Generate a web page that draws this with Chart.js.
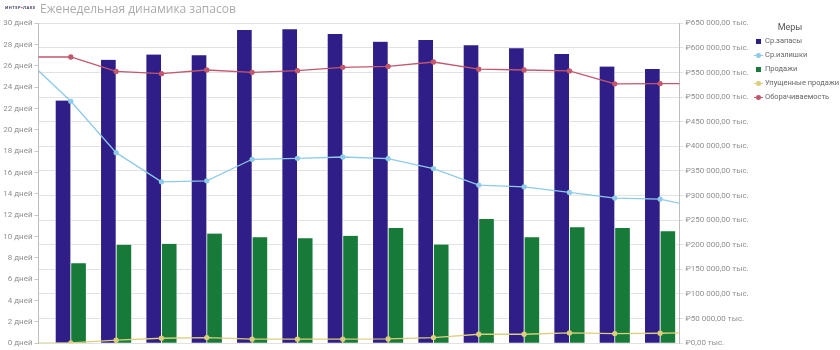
<!DOCTYPE html>
<html lang="ru">
<head>
<meta charset="utf-8">
<script src="https://cdn.jsdelivr.net/npm/chart.js@4.4.1/dist/chart.umd.min.js"></script>
<style>
  html, body { margin: 0; padding: 0; background: #fff; }
  #wrap { position: relative; width: 840px; height: 350px; font-family: "Open Sans", sans-serif; }
  #chart { position: absolute; left: 0; top: 0; }
  #logo { position: absolute; left: 5px; top: 5px; font-size: 4px; line-height: 5px; font-weight: bold; letter-spacing: 0.5px; color: #3a3f5c; }
  #logo b { color: #d0243a; }
  #title { position: absolute; left: 40px; top: 0px; font-size: 12px; line-height: 17px; color: #ababab; }
  #legend { position: absolute; left: 754px; top: 20px; font-family: Roboto, sans-serif; font-size: 7.5px; color: #666; }
  #legend .head { width: 72px; text-align: center; font-size: 9px; color: #555; height: 14px; line-height: 14px; }
  #legend .item { height: 14px; line-height: 14px; white-space: nowrap; position: relative; padding-left: 11px; }
  #legend .sq { position: absolute; left: 2px; top: 4.5px; width: 5px; height: 5px; }
  #legend .ln { position: absolute; left: 0; top: 6.5px; width: 9px; height: 1.2px; }
  #legend .dot { position: absolute; left: 2.3px; top: 5px; width: 4.5px; height: 4.5px; border-radius: 50%; }
</style>
</head>
<body>
<div id="wrap">
  <canvas id="chart" width="840" height="350"></canvas>
  <div id="logo">ИНТЕР<b>•</b>ЛАКЕ</div>
  <div id="title">Еженедельная динамика запасов</div>
  <div id="legend"></div>
</div>
<script>
// weeks; the first and last one are only partly in view (lines run off the edges)
const weeks = ["Нед. 1", "Нед. 2", "Нед. 3", "Нед. 4", "Нед. 5", "Нед. 6", "Нед. 7", "Нед. 8",
               "Нед. 9", "Нед. 10", "Нед. 11", "Нед. 12", "Нед. 13", "Нед. 14", "Нед. 15", "Нед. 16"];

// тыс. ₽
const avgStock  = [null, 493000, 575700, 586400, 585200, 636300, 637700, 628200, 612700, 616100, 605400, 599300, 587800, 562200, 556900, null];
const avgExcess = [578700, 491500, 387200, 327800, 329900, 373700, 375700, 378300, 375100, 354900, 321200, 317700, 306400, 294900, 292900, 272700];
const sales     = [null, 162200, 200000, 202000, 222800, 215500, 213500, 218200, 234300, 200600, 252500, 215500, 235700, 234300, 227700, null];
const lostSales = [0, 500, 6100, 10100, 11500, 8100, 8100, 8100, 8700, 11500, 18200, 18200, 20800, 19600, 20200, 21600];
// дней
const turnover  = [26.84, 26.84, 25.49, 25.28, 25.62, 25.40, 25.56, 25.87, 25.96, 26.37, 25.70, 25.62, 25.53, 24.32, 24.35, 24.32];

const dayTicks = [0, 2, 4, 6, 8, 10, 12, 14, 16, 18, 20, 22, 24, 26, 28, 30];
const moneyTicks = [0, 50000, 100000, 150000, 200000, 250000, 300000, 350000, 400000, 450000, 500000, 550000, 600000, 650000];

const toXY = (arr) => arr.map((v, i) => ({ x: i, y: v }));

function fmtMoney(v) {
    const s = String(Math.round(v)).replace(/\B(?=(\d{3})+(?!\d))/g, " ");
    return "₽" + s + ",00 тыс.";
}

const tickFont = { family: "Roboto", size: 8 };

const datasets = [
    {
        type: "bar", label: "Ср.запасы", data: toXY(avgStock), yAxisID: "y1", order: 2,
        backgroundColor: "#2f1e87", borderColor: "#ffffff",
        borderWidth: { left: 0.75, right: 0.75, top: 0, bottom: 0 },
        barThickness: 15.5,
    },
    {
        type: "line", label: "Ср.излишки", data: toXY(avgExcess), yAxisID: "y1", order: 1,
        borderColor: "#8fcbe8", backgroundColor: "#8fcbe8", borderWidth: 1.3, pointRadius: 2,
    },
    {
        type: "bar", label: "Продажи", data: toXY(sales), yAxisID: "y1", order: 2,
        backgroundColor: "#177a38", borderColor: "#ffffff",
        borderWidth: { left: 0.75, right: 0.75, top: 0, bottom: 0 },
        barThickness: 15.5,
    },
    {
        type: "line", label: "Упущенные продажи", data: toXY(lostSales), yAxisID: "y1", order: 1,
        borderColor: "#dccf7c", backgroundColor: "#dccf7c", borderWidth: 1.3, pointRadius: 2,
    },
    {
        type: "line", label: "Оборачиваемость", data: toXY(turnover), yAxisID: "y", order: 1,
        borderColor: "#c3576d", backgroundColor: "#c3576d", borderWidth: 1.3, pointRadius: 2,
    },
];

new Chart(document.getElementById("chart"), {
    data: { datasets: datasets },
    options: {
        responsive: false,
        animation: false,
        layout: { padding: { top: 23.3, bottom: 5, left: 0, right: 90 } },
        plugins: {
            legend: { display: false },
            tooltip: { enabled: false },
        },
        scales: {
            x: {
                type: "linear",
                min: 0.2875,
                max: 14.428,
                offset: false,
                bounds: "data",
                display: false,
            },
            y: {
                position: "left",
                min: 0,
                max: 30,
                afterBuildTicks: (s) => { s.ticks = dayTicks.map((v) => ({ value: v })); },
                afterFit: (s) => { s.width = 38.5; },
                ticks: { font: tickFont, color: "#909090", padding: 2, callback: (v) => v + " дней" },
                grid: { drawOnChartArea: false, tickLength: 4, color: "#c8c8c8" },
                border: { color: "#bdbdbd" },
            },
            y1: {
                position: "right",
                min: 0,
                max: 650000,
                afterBuildTicks: (s) => { s.ticks = moneyTicks.map((v) => ({ value: v })); },
                afterFit: (s) => { s.width = 70.5; },
                ticks: { font: tickFont, color: "#909090", padding: 2, callback: (v) => fmtMoney(v) },
                grid: { color: "#e2e2e2", tickLength: 4 },
                border: { color: "#bdbdbd" },
            },
        },
    },
});

// legend
const legendEl = document.getElementById("legend");
let html = '<div class="head">Меры</div>';
datasets.forEach((d) => {
    const c = d.backgroundColor;
    const mark = d.type === "bar"
        ? '<span class="sq" style="background:' + c + '"></span>'
        : '<span class="ln" style="background:' + c + '"></span><span class="dot" style="background:' + c + '"></span>';
    html += '<div class="item">' + mark + d.label + "</div>";
});
legendEl.innerHTML = html;
</script>
</body>
</html>
